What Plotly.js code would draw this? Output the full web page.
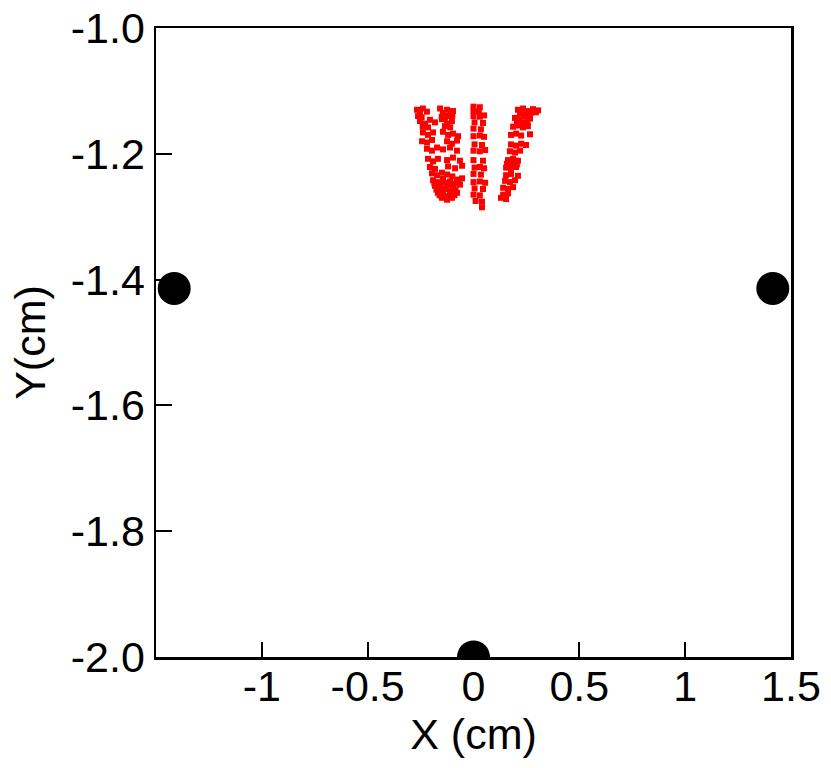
<!DOCTYPE html>
<html>
<head>
<meta charset="utf-8">
<script src="https://cdn.plot.ly/plotly-3.0.1.min.js"></script>
<style>
  html, body { margin: 0; padding: 0; background: #fff; }
  #chart { width: 831px; height: 768px; }
</style>
</head>
<body>
<div id="chart"></div>
<script>
// electrode positions (cm)
var electrodeX = [-1.414, 1.414, 0];
var electrodeY = [-1.414, -1.414, -2.0];

// left band of red points
var leftX = [-0.267, -0.253, -0.239, -0.220, -0.158, -0.144, -0.125, -0.111, -0.097,
             -0.262, -0.245, -0.150, -0.135, -0.118, -0.100,
             -0.253, -0.229, -0.206, -0.182, -0.149, -0.125, -0.102,
             -0.240, -0.215, -0.135, -0.110,
             -0.239, -0.215, -0.191, -0.144, -0.120, -0.097, -0.073,
             -0.243, -0.220, -0.196, -0.125, -0.102, -0.078,
             -0.220, -0.196, -0.172, -0.144, -0.111, -0.078,
             -0.215, -0.191, -0.168, -0.125, -0.097, -0.064,
             -0.206, -0.182, -0.120, -0.087, -0.054,
             -0.196, -0.172, -0.149, -0.125, -0.100,
             -0.191, -0.168, -0.144, -0.111, -0.078, -0.054,
             -0.185, -0.160, -0.135, -0.090, -0.070,
             -0.182, -0.158, -0.125, -0.097, -0.064,
             -0.175, -0.150, -0.130, -0.085,
             -0.168, -0.144, -0.111, -0.078,
             -0.160, -0.135, -0.115, -0.090,
             -0.149, -0.125, -0.102];
var leftY = [-1.130, -1.135, -1.128, -1.133, -1.128, -1.135, -1.130, -1.138, -1.132,
             -1.140, -1.142, -1.141, -1.143, -1.140, -1.139,
             -1.148, -1.152, -1.146, -1.150, -1.145, -1.152, -1.148,
             -1.157, -1.158, -1.156, -1.158,
             -1.166, -1.170, -1.166, -1.165, -1.170, -1.168, -1.172,
             -1.180, -1.182, -1.178, -1.180, -1.184, -1.179,
             -1.192, -1.195, -1.190, -1.193, -1.190, -1.195,
             -1.208, -1.212, -1.208, -1.210, -1.206, -1.211,
             -1.221, -1.224, -1.220, -1.223, -1.219,
             -1.231, -1.234, -1.230, -1.233, -1.236,
             -1.242, -1.245, -1.240, -1.244, -1.241, -1.239,
             -1.247, -1.248, -1.246, -1.247, -1.245,
             -1.251, -1.254, -1.250, -1.253, -1.249,
             -1.257, -1.258, -1.256, -1.257,
             -1.262, -1.265, -1.260, -1.262,
             -1.266, -1.268, -1.267, -1.266,
             -1.270, -1.273, -1.270];

// middle column of red points
var midX = [0.000, 0.030, 0.000, 0.025, 0.000, 0.030, 0.050, 0.005, 0.045,
            0.000, 0.035, 0.000, 0.030, 0.050, 0.005, 0.040, 0.000, 0.030, 0.055,
            0.000, 0.045, 0.005, 0.030, 0.050, 0.000, 0.035, 0.000, 0.030, 0.055,
            0.005, 0.045, 0.000, 0.030, 0.010, 0.040, 0.040];
var midY = [-1.125, -1.126, -1.132, -1.133, -1.140, -1.141, -1.139, -1.150, -1.151,
            -1.160, -1.161, -1.172, -1.171, -1.173, -1.185, -1.186, -1.195, -1.196, -1.194,
            -1.210, -1.211, -1.222, -1.221, -1.223, -1.232, -1.233, -1.245, -1.244, -1.246,
            -1.255, -1.256, -1.265, -1.266, -1.275, -1.276, -1.285];

// right band of red points
var rightX = [0.210, 0.234, 0.257, 0.281, 0.305,
              0.220, 0.245, 0.270, 0.295,
              0.196, 0.220, 0.243, 0.267,
              0.205, 0.230, 0.255,
              0.187, 0.210, 0.234, 0.257,
              0.177, 0.201, 0.225, 0.267,
              0.177, 0.201, 0.225, 0.248,
              0.172, 0.196, 0.220,
              0.163, 0.187, 0.210,
              0.158, 0.182, 0.205,
              0.154, 0.177, 0.201,
              0.154, 0.177, 0.210,
              0.149, 0.172, 0.196,
              0.140, 0.163, 0.187,
              0.140, 0.163,
              0.130, 0.154];
var rightY = [-1.130, -1.128, -1.132, -1.129, -1.131,
              -1.136, -1.137, -1.135, -1.134,
              -1.143, -1.145, -1.141, -1.144,
              -1.150, -1.151, -1.149,
              -1.157, -1.155, -1.158, -1.156,
              -1.170, -1.168, -1.171, -1.169,
              -1.185, -1.187, -1.184, -1.186,
              -1.196, -1.198, -1.195,
              -1.210, -1.208, -1.211,
              -1.216, -1.215, -1.217,
              -1.222, -1.224, -1.221,
              -1.234, -1.232, -1.235,
              -1.243, -1.245, -1.242,
              -1.254, -1.256, -1.253,
              -1.265, -1.263,
              -1.270, -1.272];

var xTickVals = [-1, -0.5, 0, 0.5, 1, 1.5];
var xTickText = ['-1', '-0.5', '0', '0.5', '1', '1.5'];
var yTickVals = [-1.0, -1.2, -1.4, -1.6, -1.8, -2.0];
var yTickText = ['-1.0', '-1.2', '-1.4', '-1.6', '-1.8', '-2.0'];

var redMarker = {color: '#ff0000', symbol: 'square', size: 6};

var data = [
  {x: leftX, y: leftY, mode: 'markers', type: 'scatter', marker: redMarker},
  {x: midX, y: midY, mode: 'markers', type: 'scatter', marker: redMarker},
  {x: rightX, y: rightY, mode: 'markers', type: 'scatter', marker: redMarker},
  {x: electrodeX, y: electrodeY, mode: 'markers', type: 'scatter',
   marker: {color: '#000000', size: 33}}
];

var axisFont = {family: 'Liberation Sans, Arial, sans-serif', size: 43, color: '#000'};

var layout = {
  width: 831,
  height: 768,
  showlegend: false,
  paper_bgcolor: '#fff',
  plot_bgcolor: '#fff',
  margin: {l: 156, r: 40, t: 28, b: 111},
  font: axisFont,
  xaxis: {
    range: [-1.5, 1.5],
    tickvals: xTickVals,
    ticktext: xTickText,
    ticks: 'inside',
    ticklen: 15,
    tickwidth: 2,
    tickcolor: '#000',
    ticklabelstandoff: -10,
    showline: true,
    linecolor: '#000',
    linewidth: 2.5,
    mirror: true,
    showgrid: false,
    zeroline: false,
    tickfont: axisFont,
    title: {text: 'X (cm)', font: axisFont, standoff: 0}
  },
  yaxis: {
    range: [-2.0, -1.0],
    tickvals: yTickVals,
    ticktext: yTickText,
    ticks: 'inside',
    ticklen: 16,
    tickwidth: 2,
    tickcolor: '#000',
    showline: true,
    linecolor: '#000',
    linewidth: 2.5,
    mirror: true,
    showgrid: false,
    zeroline: false,
    tickfont: axisFont,
    title: {text: 'Y(cm)', font: axisFont, standoff: 12}
  }
};

Plotly.newPlot('chart', data, layout, {displayModeBar: false, staticPlot: true});
</script>
</body>
</html>
